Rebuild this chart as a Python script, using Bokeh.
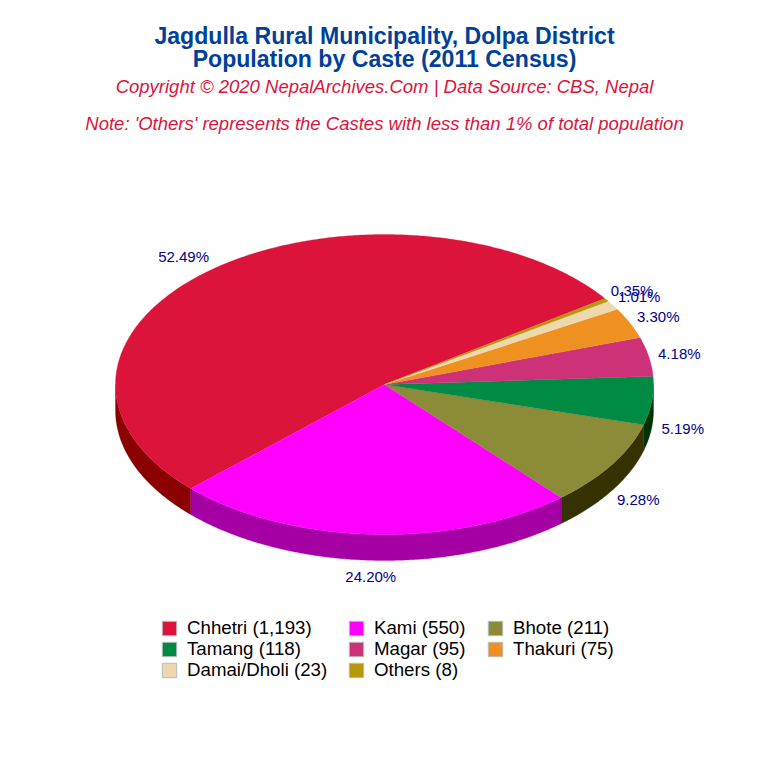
import math
from bokeh.plotting import figure
from bokeh.models import Range1d, Legend, LegendItem
from bokeh.core.properties import value
from bokeh.embed import file_html
from bokeh.resources import INLINE

castes = ["Chhetri", "Kami", "Bhote", "Tamang", "Magar", "Thakuri", "Damai/Dholi", "Others"]
population = [1193, 550, 211, 118, 95, 75, 23, 8]
top_colors = ["#DC143C", "#FF00FF", "#8B8B38", "#008B45", "#CD3278", "#EE9121", "#EED8AE", "#B8960A"]
side_colors = ["#8B0000", "#A400A4", "#363100", "#003300", "#7A0040", "#8B5500", "#8B7D5B", "#6B5500"]
title_lines = ["Jagdulla Rural Municipality, Dolpa District", "Population by Caste (2011 Census)"]
subtitle = "Copyright \u00a9 2020 NepalArchives.Com | Data Source: CBS, Nepal"
note = "Note: 'Others' represents the Castes with less than 1% of total population"

RX, RY, DEPTH = 269, 150, 26
LX_RIGHT, LX_LEFT, LY = 300, 316, 166
START = 35.0
FONT = "Liberation Sans"

p = figure(width=752, height=752, output_backend="svg", toolbar_location=None,
           x_range=Range1d(-384, 368), y_range=Range1d(-368, 384),
           min_border=0, outline_line_color=None)
p.xaxis.visible = False
p.yaxis.visible = False
p.grid.visible = False


def arc(a1, a2, dy=0.0):
    n = max(2, int(abs(a2 - a1) * 2) + 1)
    angs = [math.radians(a1 + (a2 - a1) * i / (n - 1)) for i in range(n)]
    return [RX * math.cos(a) for a in angs], [RY * math.sin(a) + dy for a in angs]


total = sum(population)
edges = [START]
for v in population:
    edges.append(edges[-1] + 360.0 * v / total)

# side wall (front half of the rim only)
for i in range(len(population)):
    a1, a2 = max(edges[i], 180.0), min(edges[i + 1], 360.0)
    if a2 > a1:
        tx, ty = arc(a1, a2)
        bx, by = arc(a1, a2, -DEPTH)
        xs = tx + bx[::-1]
        ys = ty + by[::-1]
        p.patch(xs, ys, fill_color=side_colors[i], line_color=side_colors[i], line_width=0.3)

# top face
for i in range(len(population)):
    ax, ay = arc(edges[i], edges[i + 1])
    p.patch([0.0] + ax, [0.0] + ay, fill_color=top_colors[i], line_color=top_colors[i], line_width=0.3)

# percentage labels
lab_x, lab_y, lab_t = [], [], []
for i, v in enumerate(population):
    m = math.radians((edges[i] + edges[i + 1]) / 2)
    lab_x.append((LX_LEFT if math.cos(m) < 0 else LX_RIGHT) * math.cos(m))
    y = LY * math.sin(m)
    lab_y.append(y - DEPTH if math.sin(m) < 0 else y)
    lab_t.append(f"{100 * v / total:.2f}%")
p.text(lab_x, lab_y, text=lab_t, text_align="center", text_baseline="middle",
       text_font=value(FONT), text_font_size="15px", text_color="#00008B")

# headings
p.text([0, 0], [349, 326], text=title_lines, text_align="center", text_baseline="middle",
       text_font=value(FONT), text_font_style="bold", text_font_size="23.1px", text_color="#003F9A")
p.text([0, 0], [298, 261], text=[subtitle, note], text_align="center", text_baseline="middle",
       text_font=value(FONT), text_font_style="italic", text_font_size="18.5px", text_color="#DC143C")

# legend: each entry placed on the reference's 3-column grid
nan = float("nan")
column_x = [160, 347, 486]
for i, (c, v) in enumerate(zip(castes, population)):
    row, col = divmod(i, 3)
    r = p.quad(left=[nan], right=[nan], top=[nan], bottom=[nan],
               fill_color=top_colors[i], line_color="#BBBBBB", line_width=1)
    legend = Legend(items=[LegendItem(label=f"{c} ({v:,})", renderers=[r], index=0)],
                    location=(column_x[col], 752 - 617 - 21 * row - 22),
                    glyph_width=18, glyph_height=18, label_standoff=9, spacing=0,
                    label_height=15, padding=0, margin=0, border_line_color=None,
                    background_fill_alpha=0, label_text_font=FONT, label_text_font_size="18.7px",
                    label_text_color="#000000")
    p.add_layout(legend, "center")

open("out.html", "w").write(file_html(p, INLINE))
